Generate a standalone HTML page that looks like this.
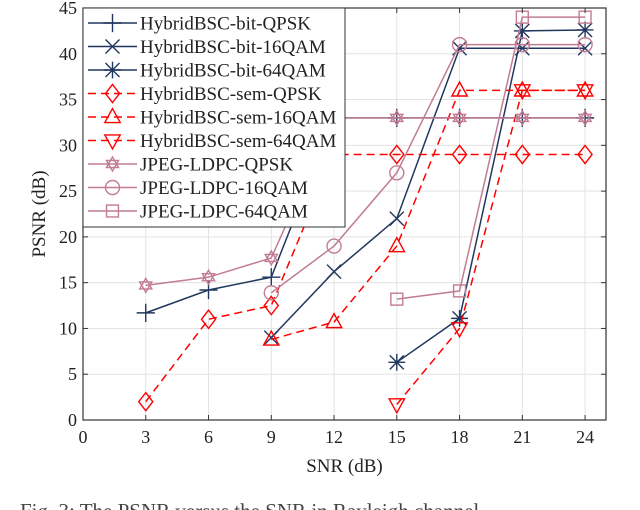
<!DOCTYPE html>
<html><head><meta charset="utf-8"><style>
body{margin:0;background:#fff}
svg{display:block;font-family:"Liberation Serif",serif}
</style></head><body>
<svg id="chart" width="640" height="510"></svg>
<script>
const snr=[3,6,9,12,15,18,21,24];
const bitQPSK=[11.7,14.2,15.6,33,33,33,33,33];
const bit16=[null,null,9,16.2,22,40.6,40.6,40.6];
const bit64=[null,null,null,null,6.3,11.1,42.5,42.6];
const semQPSK=[2,11,12.5,29,29,29,29,29];
const sem16=[null,null,8.8,10.7,19,36,36,36];
const sem64=[null,null,null,null,1.7,10,36,36];
const jpgQPSK=[14.7,15.6,17.7,33,33,33,33,33];
const jpg16=[null,null,13.9,19,27,41,41,41];
const jpg64=[null,null,null,null,13.2,14.1,44,44];
const xTicks=[0,3,6,9,12,15,18,21,24];
const yTicks=[0,5,10,15,20,25,30,35,40,45];
const names=["HybridBSC-bit-QPSK","HybridBSC-bit-16QAM","HybridBSC-bit-64QAM","HybridBSC-sem-QPSK","HybridBSC-sem-16QAM","HybridBSC-sem-64QAM","JPEG-LDPC-QPSK","JPEG-LDPC-16QAM","JPEG-LDPC-64QAM"];

const NS="http://www.w3.org/2000/svg";
const svg=document.getElementById('chart');
const L=83,R=606,T=8,B=420;
const X=v=>L+(v-0)/25*(R-L);
const Y=v=>B-v/45*(B-T);
function el(t,a,p){const e=document.createElementNS(NS,t);for(const k in a)e.setAttribute(k,a[k]);(p||svg).appendChild(e);return e;}
const NAVY="#22375f",RED="#ff0000",PINK="#c27c94";
const series=[
 {d:bitQPSK,c:NAVY,m:"plus",dash:false},
 {d:bit16,c:NAVY,m:"x",dash:false},
 {d:bit64,c:NAVY,m:"star",dash:false},
 {d:semQPSK,c:RED,m:"diamond",dash:true},
 {d:sem16,c:RED,m:"tri",dash:true},
 {d:sem64,c:RED,m:"tridown",dash:true},
 {d:jpgQPSK,c:PINK,m:"hex",dash:false},
 {d:jpg16,c:PINK,m:"circle",dash:false},
 {d:jpg64,c:PINK,m:"square",dash:false}];

const g=el('g',{});


xTicks.forEach(t=>el('line',{x1:X(t),x2:X(t),y1:T,y2:B,stroke:"#e3e3e3","stroke-width":1},g));
yTicks.forEach(t=>el('line',{x1:L,x2:R,y1:Y(t),y2:Y(t),stroke:"#e3e3e3","stroke-width":1},g));

function marker(type,x,y,c,parent){
 const s=7,a={fill:"none",stroke:c,"stroke-width":1.4};
 let e;
 if(type==="plus")e=el('path',Object.assign({d:`M${x-s*1.3} ${y}H${x+s*1.3}M${x} ${y-s*1.3}V${y+s*1.3}`},a),parent);
 else if(type==="x")e=el('path',Object.assign({d:`M${x-s} ${y-s}L${x+s} ${y+s}M${x-s} ${y+s}L${x+s} ${y-s}`},a),parent);
 else if(type==="star")e=el('path',Object.assign({d:`M${x-s*1.2} ${y}H${x+s*1.2}M${x} ${y-s*1.2}V${y+s*1.2}M${x-s} ${y-s}L${x+s} ${y+s}M${x-s} ${y+s}L${x+s} ${y-s}`},a),parent);
 else if(type==="diamond")e=el('path',Object.assign({d:`M${x} ${y-s*1.3}L${x+s} ${y}L${x} ${y+s*1.3}L${x-s} ${y}Z`},a),parent);
 else if(type==="tri")e=el('path',Object.assign({d:`M${x} ${y-s*1.2}L${x+s*1.1} ${y+s*0.8}L${x-s*1.1} ${y+s*0.8}Z`},a),parent);
 else if(type==="tridown")e=el('path',Object.assign({d:`M${x} ${y+s*1.2}L${x+s*1.1} ${y-s*0.8}L${x-s*1.1} ${y-s*0.8}Z`},a),parent);
 else if(type==="hex")e=el('path',Object.assign({d:`M${x} ${y-s}L${x+s*0.87} ${y+s*0.5}L${x-s*0.87} ${y+s*0.5}ZM${x} ${y+s}L${x+s*0.87} ${y-s*0.5}L${x-s*0.87} ${y-s*0.5}Z`},a),parent);
 else if(type==="circle")e=el('circle',Object.assign({cx:x,cy:y,r:s},a),parent);
 else e=el('rect',Object.assign({x:x-s*0.85,y:y-s*0.85,width:s*1.7,height:s*1.7},a),parent);
 return e;
}

series.forEach((s,i)=>{
 const gs=el('g',{});
 
 
 let pts=[];
 s.d.forEach((v,j)=>{if(v!==null)pts.push([X(snr[j]),Y(v)]);});
 const ln=el('polyline',{points:pts.map(p=>p.join(',')).join(' '),fill:"none",stroke:s.c,"stroke-width":1.5,"stroke-dasharray":s.dash?"8,5":"none"},gs);
 
 
 pts.forEach(p=>{const m=marker(s.m,p[0],p[1],s.c,gs);
  
  });
});

const box=el('rect',{x:L,y:T,width:R-L,height:B-T,fill:"none",stroke:"#333","stroke-width":1.2});


xTicks.forEach(t=>{
 el('line',{x1:X(t),x2:X(t),y1:B,y2:B-5,stroke:"#333"});
 el('line',{x1:X(t),x2:X(t),y1:T,y2:T+5,stroke:"#333"});
 const tx=el('text',{x:X(t),y:B+23,"text-anchor":"middle","font-size":18,fill:"#222"});tx.textContent=t;
 
 
});
yTicks.forEach(t=>{
 el('line',{x1:L,x2:L+5,y1:Y(t),y2:Y(t),stroke:"#333"});
 el('line',{x1:R,x2:R-5,y1:Y(t),y2:Y(t),stroke:"#333"});
 const tx=el('text',{x:L-6,y:Y(t)+6,"text-anchor":"end","font-size":18,fill:"#222"});tx.textContent=t;
 
 
});
const xt=el('text',{x:(L+R)/2,y:472,"text-anchor":"middle","font-size":19,fill:"#222"});xt.textContent="SNR (dB)";


const yt=el('text',{x:0,y:0,transform:`translate(45,${(T+B)/2}) rotate(-90)`,"text-anchor":"middle","font-size":19,fill:"#222"});yt.textContent="PSNR (dB)";



const lg=el('g',{});


el('rect',{x:L,y:T,width:262,height:219,fill:"#fff",stroke:"#333","stroke-width":1},lg);
series.forEach((s,i)=>{
 const y=T+15+i*23.5;
 const ge=el('g',{},lg);
 
 
 el('line',{x1:88,x2:137,y1:y,y2:y,stroke:s.c,"stroke-width":1.5,"stroke-dasharray":s.dash?"8,5":"none"},ge);
 marker(s.m,112.5,y,s.c,ge);
 const tx=el('text',{x:140,y:y+6.5,"font-size":19,fill:"#222"},ge);tx.textContent=names[i];
});
const cap=el('text',{x:20,y:518,"font-size":21,fill:"#444"});cap.textContent="Fig. 3: The PSNR versus the SNR in Rayleigh channel.";


</script>
</body></html>
